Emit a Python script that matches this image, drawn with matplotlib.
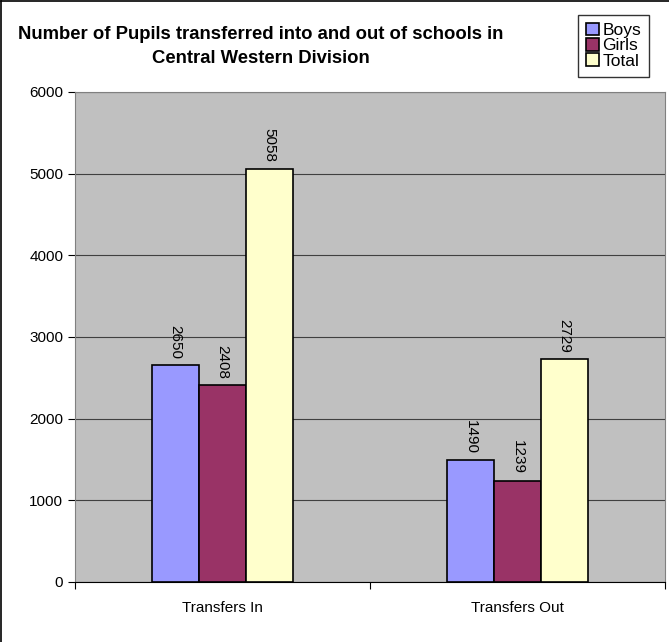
import matplotlib.pyplot as plt
import numpy as np

plt.rcParams['font.family'] = ['Liberation Sans', 'DejaVu Sans']

categories = ["Transfers In", "Transfers Out"]
series = ["Boys", "Girls", "Total"]
boys = [2650, 1490]
girls = [2408, 1239]
total = [5058, 2729]
colors = ["#9999FF", "#993366", "#FFFFCC"]

fig = plt.figure(figsize=(6.69, 6.42), dpi=100)
ax = fig.add_axes([0.1121, 0.0935, 0.882, 0.7635])
ax.set_facecolor("#C0C0C0")

x = np.arange(len(categories))
w = 0.159
for i, (name, vals) in enumerate(zip(series, [boys, girls, total])):
    pos = x + (i - 1) * w
    ax.bar(pos, vals, width=w, color=colors[i], edgecolor="black", linewidth=1.2,
           label=name, zorder=3)
    for p, v in zip(pos, vals):
        ax.text(p, v + 80, str(v), rotation=270, ha="center", va="bottom", fontsize=11)

ax.set_xlim(-0.5, 1.5)
ax.set_ylim(0, 6000)
ax.set_yticks(range(0, 6001, 1000))
ax.yaxis.grid(True, color="#404040", linewidth=0.8, zorder=1)
ax.set_axisbelow(True)
ax.set_xticks([-0.5, 0.5, 1.5])
ax.set_xticklabels([])
ax.set_xticks(x, minor=True)
ax.set_xticklabels(categories, minor=True, fontsize=11)
ax.tick_params(axis="x", which="minor", length=0, pad=14)
ax.tick_params(axis="x", which="major", length=5, direction="out")
ax.tick_params(axis="y", length=5, labelsize=11)
for s in ["top", "right", "left"]:
    ax.spines[s].set_color("#808080")
ax.spines["bottom"].set_color("black")

fig.text(0.39, 0.928, "Number of Pupils transferred into and out of schools in\nCentral Western Division",
         ha="center", va="center", fontsize=13.3, fontweight="bold", linespacing=1.55)

leg = fig.legend(loc="upper right", bbox_to_anchor=(0.978, 0.985), frameon=True, fancybox=False,
                 edgecolor="black", fontsize=12.5, handlelength=0.75, handleheight=0.75,
                 handletextpad=0.2, labelspacing=0.0, borderpad=0.45, borderaxespad=0.3)
leg.get_frame().set_linewidth(1.0)

# border on left and top only, as in the source image
fig.add_artist(plt.Line2D([0.002, 0.002], [0, 0.998], transform=fig.transFigure, color="black", linewidth=1.2))
fig.add_artist(plt.Line2D([0.002, 1.0], [0.998, 0.998], transform=fig.transFigure, color="black", linewidth=1.2))

fig.savefig("out.png", dpi=100)
